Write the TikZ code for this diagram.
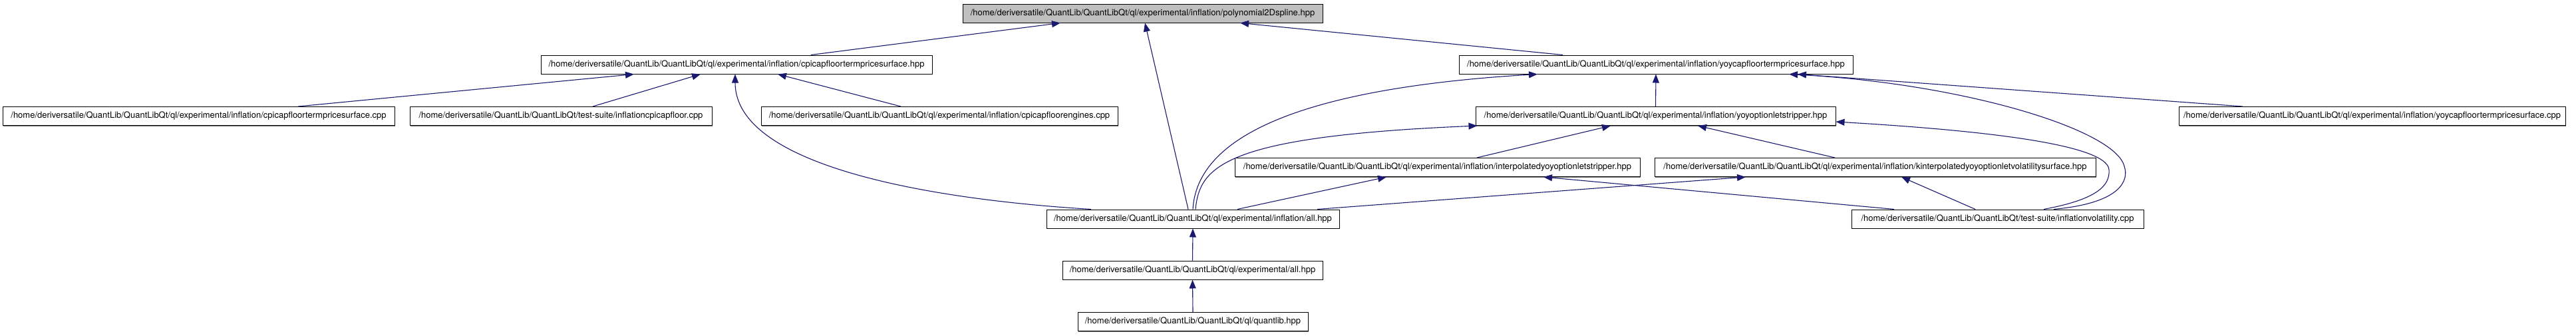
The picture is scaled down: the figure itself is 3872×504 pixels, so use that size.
\documentclass[tikz,border=0pt]{standalone}
\usepackage{fontspec}
\setmainfont{TeX Gyre Heros}
\usetikzlibrary{arrows.meta,shadows}
\definecolor{edgeblue}{HTML}{191970}
\definecolor{topgray}{HTML}{BFBFBF}
\begin{document}
\begin{tikzpicture}[x=1pt,y=-1pt,
 filebox/.style={draw=black, line width=1pt, fill=white, minimum height=28pt, inner sep=0pt,
   font=\fontsize{13}{15}\selectfont,
   drop shadow={shadow xshift=1.3pt, shadow yshift=-1.3pt, fill=black!55, opacity=1}},
 edge/.style={draw=edgeblue, line width=1.1pt, -{Triangle[length=13pt,width=10pt]}}
]
\useasboundingbox (0,0) rectangle (3872,504);

\node[filebox, fill=topgray, minimum width=541pt] (top) at (1717.5,20) {/home/deriversatile/QuantLib/QuantLibQt/ql/experimental/inflation/polynomial2Dspline.hpp};
\node[filebox, minimum width=588pt] (cpihpp) at (1107,97) {/home/deriversatile/QuantLib/QuantLibQt/ql/experimental/inflation/cpicapfloortermpricesurface.hpp};
\node[filebox, minimum width=589pt] (cpicpp) at (298.5,174.5) {/home/deriversatile/QuantLib/QuantLibQt/ql/experimental/inflation/cpicapfloortermpricesurface.cpp};
\node[filebox, minimum width=454pt] (infcpi) at (843,174.5) {/home/deriversatile/QuantLib/QuantLibQt/test-suite/inflationcpicapfloor.cpp};
\node[filebox, minimum width=536pt] (cpieng) at (1412,174.5) {/home/deriversatile/QuantLib/QuantLibQt/ql/experimental/inflation/cpicapfloorengines.cpp};
\node[filebox, minimum width=592pt] (yoyhpp) at (2489,97) {/home/deriversatile/QuantLib/QuantLibQt/ql/experimental/inflation/yoycapfloortermpricesurface.hpp};
\node[filebox, minimum width=541pt] (strip) at (2488.5,174.5) {/home/deriversatile/QuantLib/QuantLibQt/ql/experimental/inflation/yoyoptionletstripper.hpp};
\node[filebox, minimum width=581pt] (yoycpp) at (3565.5,174.5) {/home/deriversatile/QuantLib/QuantLibQt/ql/experimental/inflation/yoycapfloortermpricesurface.cpp};
\node[filebox, minimum width=609pt] (interp) at (2160.5,251.5) {/home/deriversatile/QuantLib/QuantLibQt/ql/experimental/inflation/interpolatedyoyoptionletstripper.hpp};
\node[filebox, minimum width=663pt] (kinterp) at (2818.5,251.5) {/home/deriversatile/QuantLib/QuantLibQt/ql/experimental/inflation/kinterpolatedyoyoptionletvolatilitysurface.hpp};
\node[filebox, minimum width=440pt] (all) at (1793,329) {/home/deriversatile/QuantLib/QuantLibQt/ql/experimental/inflation/all.hpp};
\node[filebox, minimum width=439pt] (infvol) at (3002.5,329) {/home/deriversatile/QuantLib/QuantLibQt/test-suite/inflationvolatility.cpp};
\node[filebox, minimum width=391pt] (expall) at (1792.5,406) {/home/deriversatile/QuantLib/QuantLibQt/ql/experimental/all.hpp};
\node[filebox, minimum width=346pt] (ql) at (1793,483.5) {/home/deriversatile/QuantLib/QuantLibQt/ql/quantlib.hpp};

\draw[edge] ([xshift=112pt]cpihpp.north) -- ([xshift=-123.5pt]top.south);
\draw[edge] ([xshift=-7pt]all.north) -- ([xshift=3.5pt]top.south);
\draw[edge] ([xshift=-140pt]yoyhpp.north) -- ([xshift=146.5pt]top.south);
\draw[edge] ([xshift=149.5pt]cpicpp.north) -- ([xshift=-154pt]cpihpp.south);
\draw[edge] ([xshift=48pt]infcpi.north) -- ([xshift=-54pt]cpihpp.south);
\draw[edge] ([xshift=-58pt]cpieng.north) -- ([xshift=62pt]cpihpp.south);
\draw[edge] ([xshift=-153pt]all.north) .. controls (1400,300) and (1105,250) .. ([xshift=-2pt]cpihpp.south);
\draw[edge] (all.north) .. controls (1800,190) and (2000,130) .. ([xshift=-178pt]yoyhpp.south);
\draw[edge] ([xshift=4pt]all.north) .. controls (1803,250) and (1840,205) .. ([xshift=3pt]strip.south west);
\draw[edge] (strip.north) -- (yoyhpp.south);
\draw[edge] ([xshift=-194.5pt]yoycpp.north) -- ([xshift=213pt]yoyhpp.south);
\draw[edge] ([xshift=84.5pt]infvol.north) .. controls (3190,305) and (3200,270) .. (3193,250) .. controls (3180,195) and (2950,125) .. ([xshift=200pt]yoyhpp.south);
\draw[edge] ([xshift=69.5pt]infvol.north) .. controls (3150,300) and (3172,280) .. (3170,255) .. controls (3168,225) and (3050,200) .. ([yshift=-8.5pt]strip.east);
\draw[edge] ([xshift=59.5pt]interp.north) -- ([xshift=-67.5pt]strip.south);
\draw[edge] ([xshift=-60.5pt]kinterp.north) -- ([xshift=63.5pt]strip.south);
\draw[edge] ([xshift=67pt]all.north) -- ([xshift=-76.5pt]interp.south);
\draw[edge] ([xshift=187pt]all.north) -- ([xshift=-194.5pt]kinterp.south);
\draw[edge] ([xshift=-33.5pt]infvol.north) -- ([xshift=39.5pt]kinterp.south);
\draw[edge] ([xshift=-155.5pt]infvol.north) -- ([xshift=159.5pt]interp.south);
\draw[edge] (expall.north) -- (all.south);
\draw[edge] (ql.north) -- (expall.south);
\end{tikzpicture}
\end{document}
